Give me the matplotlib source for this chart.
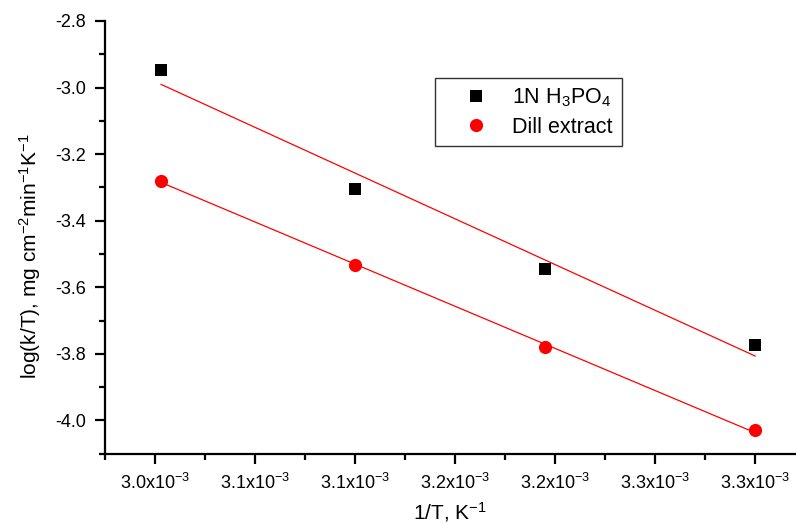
import numpy as np
import matplotlib
matplotlib.use("Agg")
import matplotlib.pyplot as plt
from matplotlib.ticker import MultipleLocator, FixedLocator, FixedFormatter

plt.rcParams['font.family'] = ['Liberation Sans', 'DejaVu Sans']
plt.rcParams['mathtext.fontset'] = 'custom'
plt.rcParams['mathtext.rm'] = 'Liberation Sans'
plt.rcParams['mathtext.it'] = 'Liberation Sans'
plt.rcParams['axes.unicode_minus'] = False

# 1/T values (x1e-3) and log(k/T) for both solutions
inv_T = [3.003, 3.100, 3.195, 3.300]
log_kT_acid = [-2.948, -3.306, -3.545, -3.773]
log_kT_dill = [-3.280, -3.533, -3.780, -4.030]

x_ticks = [3.00, 3.05, 3.10, 3.15, 3.20, 3.25, 3.30]
x_tick_labels = ['3.0', '3.1', '3.1', '3.2', '3.2', '3.3', '3.3']

fig = plt.figure(figsize=(7.96, 5.24), dpi=100)
ax = fig.add_axes([0.132, 0.134, 0.867, 0.826])

x = np.array(inv_T)
for yv, style in [(log_kT_acid, dict(marker='s', color='black', ms=8.5, label='1N H$_3$PO$_4$')),
                  (log_kT_dill, dict(marker='o', color='red', ms=9.5, label='Dill extract'))]:
    ax.plot(x, yv, linestyle='none', markeredgewidth=0, **style)
    # linear fit over the data range
    k, b = np.polyfit(x, yv, 1)
    xf = np.array([x[0], x[-1]])
    ax.plot(xf, k * xf + b, color='red', lw=0.9)

ax.set_xlim(2.975, 3.32)
ax.set_ylim(-4.1, -2.8)

ax.xaxis.set_major_locator(FixedLocator(x_ticks))
ax.xaxis.set_major_formatter(FixedFormatter([s + 'x10$^{-3}$' for s in x_tick_labels]))
ax.xaxis.set_minor_locator(MultipleLocator(0.025))
ax.yaxis.set_major_locator(MultipleLocator(0.2))
ax.yaxis.set_minor_locator(MultipleLocator(0.1))
ax.yaxis.set_major_formatter(plt.FormatStrFormatter('%.1f'))

for s in ['top', 'right']:
    ax.spines[s].set_visible(False)
for s in ['left', 'bottom']:
    ax.spines[s].set_linewidth(1.6)

ax.tick_params(which='major', direction='out', length=7, width=1.6, labelsize=13, pad=7)
ax.tick_params(which='minor', direction='out', length=4.5, width=1.6)

ax.set_xlabel('1/T, K$^{-1}$', fontsize=15)
ax.xaxis.set_label_coords(0.5, -0.106)
ax.set_ylabel('log(k/T), mg cm$^{-2}$min$^{-1}$K$^{-1}$', fontsize=15)
ax.yaxis.set_label_coords(-0.09, 0.457)

leg = ax.legend(loc='upper left', bbox_to_anchor=(0.478, 0.868), fontsize=15.5,
                frameon=True, fancybox=False, edgecolor='black', borderaxespad=0,
                handletextpad=0.2, borderpad=0.4, labelspacing=0.35, handlelength=3.0)
leg.get_frame().set_linewidth(1.0)

fig.savefig('out.png', dpi=100)
